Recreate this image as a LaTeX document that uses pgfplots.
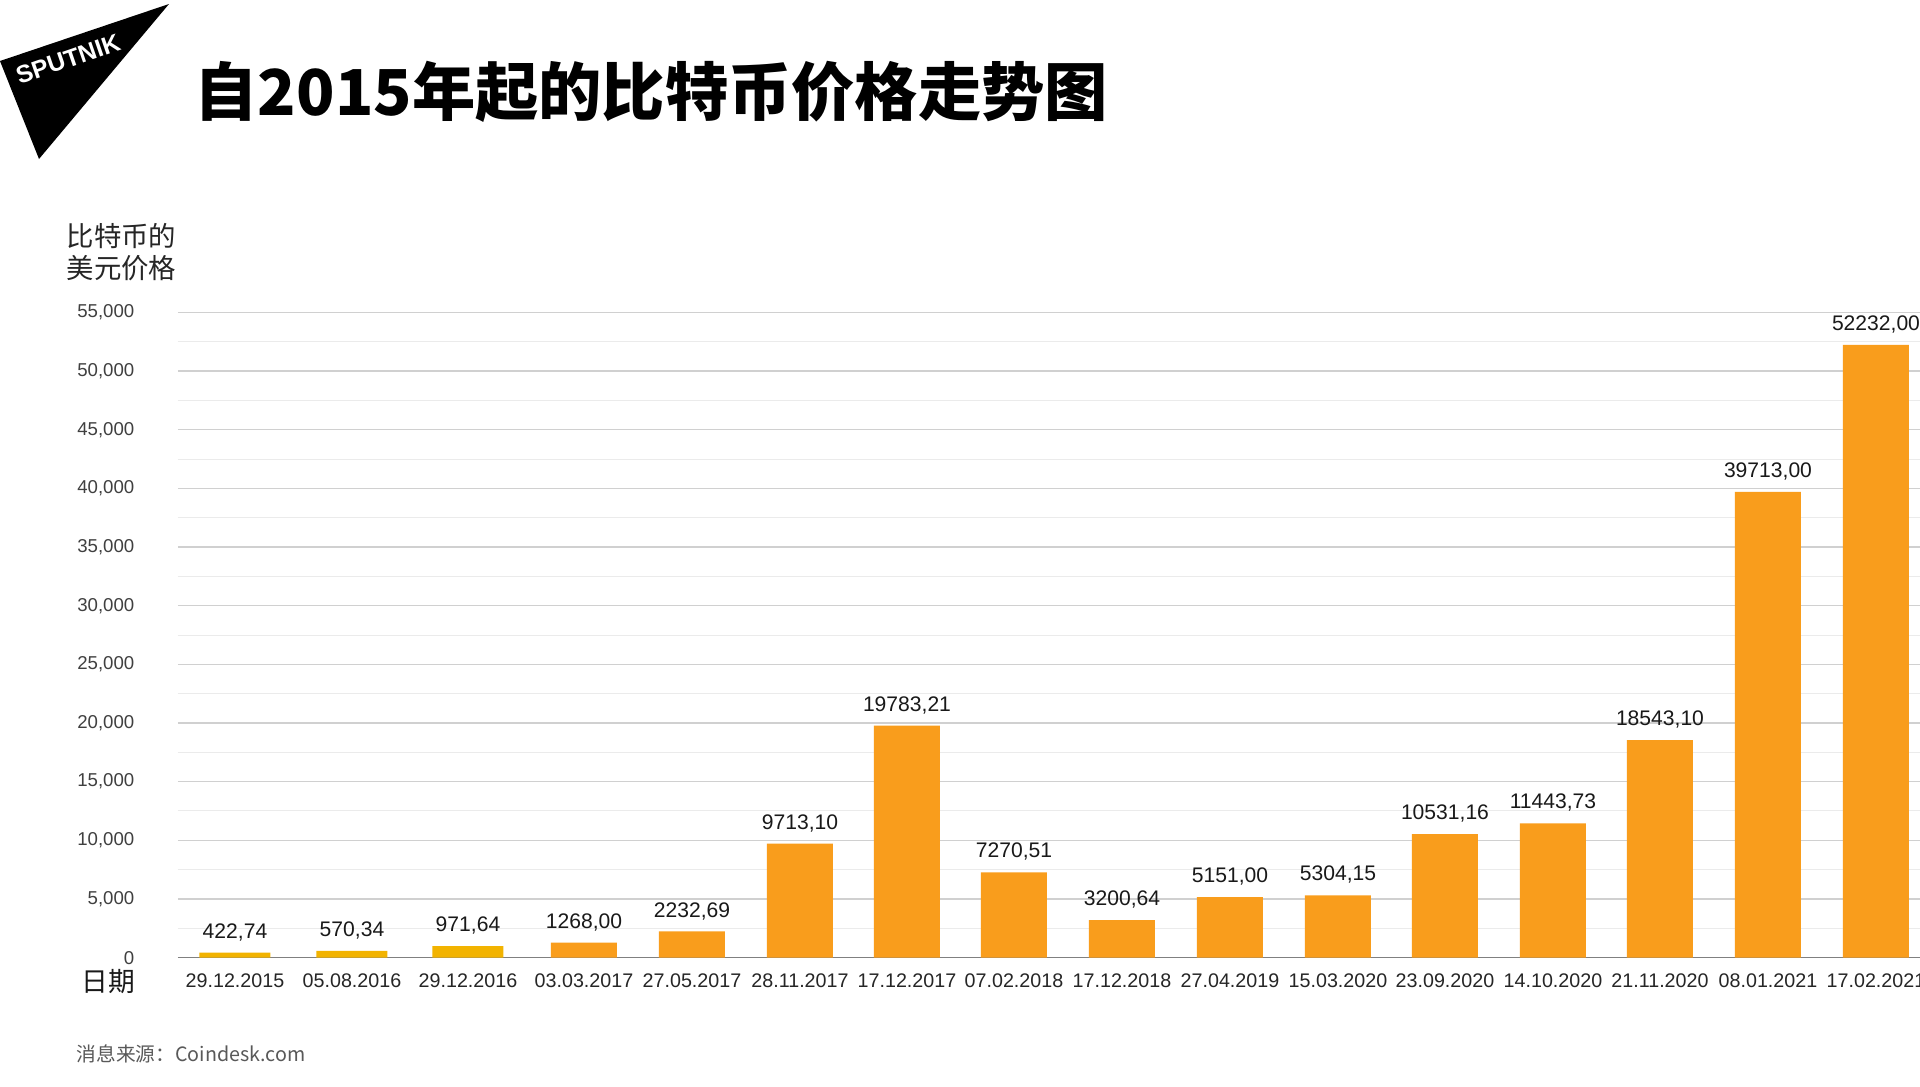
\documentclass[border=0pt]{standalone}
\usepackage{pgfplots}
\pgfplotsset{compat=1.18}
\usepackage{fontspec}
\setmainfont{Liberation Sans}
\newfontfamily\cjk{Noto Sans CJK SC}
\definecolor{baryel}{HTML}{F2B300}
\definecolor{barorg}{HTML}{F99D1C}
\definecolor{gridmaj}{HTML}{D0D0D0}
\definecolor{gridmin}{HTML}{EBEBEB}
\definecolor{axisgray}{HTML}{808080}
\definecolor{ticktxt}{HTML}{404040}
\begin{document}
\begin{tikzpicture}[x=0.1mm,y=0.1mm]
\useasboundingbox (0,0) rectangle (1920,1086);
\fill[white] (0,0) rectangle (1920,1086);
% logo
\fill[black] (0,1025) -- (169,1082) -- (39,927) -- cycle;
\node[white, rotate=19, inner sep=0pt, font=\fontsize{7}{8}\selectfont\bfseries] at (68,1027) {SPUTNIK};
% title
\node[anchor=west, inner sep=0pt, font=\cjk\bfseries\fontsize{18}{20}\selectfont] at (194,994) {自2015年起的比特币价格走势图};
% y label
\node[anchor=west, inner sep=0pt, align=left, text=black!85, font=\cjk\fontsize{7.8}{9.1}\selectfont] at (66,834) {比特币的\\美元价格};
% x label
\node[anchor=east, inner sep=0pt, text=black!90, font=\cjk\fontsize{7.6}{9}\selectfont] at (136,104) {日期};
% source
\node[anchor=west, inner sep=0pt, text=black!65, font=\cjk\fontsize{5.6}{7}\selectfont] at (76,32) {消息来源：Coindesk.com};
\begin{axis}[
  at={(17.8mm,12.84mm)}, anchor=south west,
  scale only axis, width=174.2mm, height=64.52mm,
  xmin=178, xmax=1920, ymin=0, ymax=55000,
  clip=false,
  axis x line*=bottom, axis y line*=left,
  x axis line style={draw=axisgray, line width=0.15mm, -},
  y axis line style={draw=none},
  major tick length=0pt, minor tick length=0pt,
  ytick={0,5000,...,55000},
  minor ytick={2500,7500,...,52500},
  ymajorgrids, yminorgrids,
  major grid style={draw=gridmaj, line width=0.12mm},
  minor grid style={draw=gridmin, line width=0.1mm},
  scaled y ticks=false,
  /pgf/number format/.cd, 1000 sep={,}, assume math mode=true,
  /pgfplots/.cd,
  yticklabel style={font=\fontsize{5.3}{6}\selectfont, text=ticktxt, anchor=east, inner sep=0pt, xshift=-4.3mm},
  xtick={235,352,468,584,692,800,907,1014,1122,1230,1338,1445,1553,1660,1768,1876},
  xticklabels={29.12.2015,05.08.2016,29.12.2016,03.03.2017,27.05.2017,28.11.2017,17.12.2017,07.02.2018,17.12.2018,27.04.2019,15.03.2020,23.09.2020,14.10.2020,21.11.2020,08.01.2021,17.02.2021},
  xticklabel style={font=\fontsize{5.6}{6.5}\selectfont, text=black!85, anchor=north, inner sep=0pt, yshift=-1.5mm},
  nodes near coords,
  point meta=explicit symbolic,
  every node near coord/.append style={anchor=south, inner sep=0pt, yshift=1.1mm, font=\fontsize{6}{7}\selectfont, text=black!90},
]
\addplot[ybar, bar width=71, bar shift=0pt, fill=baryel, draw=none] table[x=x, y=y, meta=lab] {
x y lab
235 422.74 422,74
352 570.34 570,34
468 971.64 971,64
};
\addplot[ybar, bar width=66, bar shift=0pt, fill=barorg, draw=none] table[x=x, y=y, meta=lab] {
x y lab
584 1268.00 1268,00
692 2232.69 2232,69
800 9713.10 9713,10
907 19783.21 19783,21
1014 7270.51 7270,51
1122 3200.64 3200,64
1230 5151.00 5151,00
1338 5304.15 5304,15
1445 10531.16 10531,16
1553 11443.73 11443,73
1660 18543.10 18543,10
1768 39713.00 39713,00
1876 52232.00 52232,00
};
\end{axis}
\end{tikzpicture}
\end{document}
